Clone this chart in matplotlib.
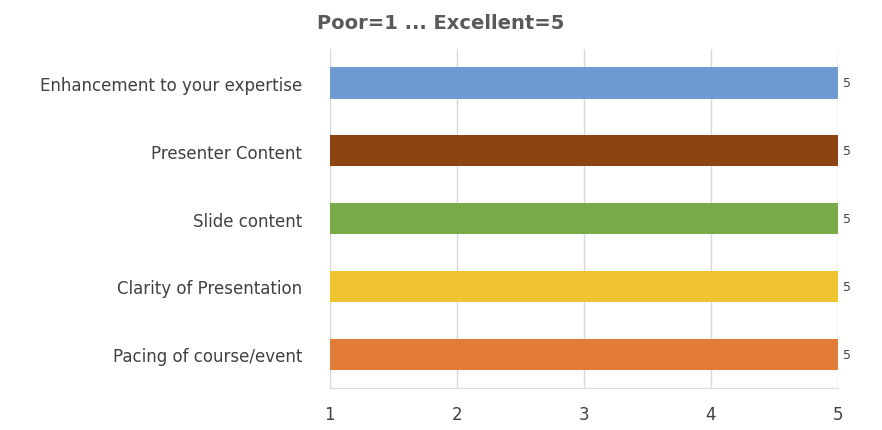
import matplotlib
matplotlib.use("Agg")
import matplotlib.pyplot as plt

categories = ["Pacing of course/event", "Clarity of Presentation", "Slide content",
              "Presenter Content", "Enhancement to your expertise"]
values = [5, 5, 5, 5, 5]
colors = ["#e27b35", "#f0c330", "#78ab48", "#8a4512", "#6f9bd3"]
xticks = [1, 2, 3, 4, 5]

fig = plt.figure(figsize=(8.82, 4.31), dpi=100)
ax = fig.add_axes([0.374, 0.097, 0.576, 0.787])
base = 1
ax.barh(range(len(categories)), [v - base for v in values], left=base, height=0.46,
        color=colors, zorder=3)
for i, v in enumerate(values):
    ax.text(v + 0.04, i, str(v), va="center", ha="left", fontsize=9, color="#404040")
ax.set_xlim(1, 5)
ax.set_ylim(-0.5, len(categories) - 0.5)
ax.set_xticks(xticks)
ax.set_yticks(range(len(categories)))
ax.set_yticklabels(categories, fontsize=12, color="#404040")
ax.tick_params(axis="x", labelsize=12, colors="#404040", length=0, pad=12)
ax.tick_params(axis="y", length=0, pad=20)
ax.grid(axis="x", color="#d9d9d9", linewidth=1, zorder=0)
for s in ["top", "right", "left"]:
    ax.spines[s].set_visible(False)
ax.spines["bottom"].set_color("#d9d9d9")
fig.text(0.5, 0.945, "Poor=1 ... Excellent=5", ha="center", va="center",
         fontsize=14, fontweight="bold", color="#595959")
fig.savefig("out.png", dpi=100)
